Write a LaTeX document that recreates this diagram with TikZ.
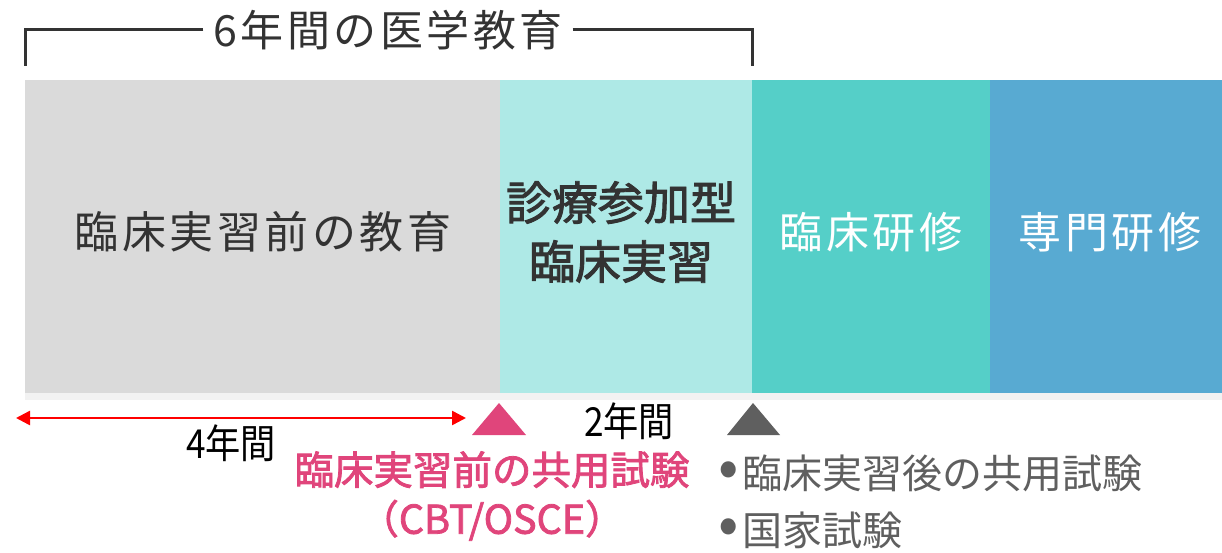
\documentclass[tikz,border=0pt]{standalone}
\usepackage{fontspec}
\setmainfont{Noto Sans CJK JP}
\newfontfamily\jpb{Noto Sans CJK JP}[FakeBold=2]
\newfontfamily\jpl{Noto Sans CJK JP}[LetterSpace=8]
\usetikzlibrary{arrows.meta}
\definecolor{cgray}{HTML}{DADADA}
\definecolor{clight}{HTML}{AEE9E6}
\definecolor{cteal}{HTML}{55CFC8}
\definecolor{cblue}{HTML}{58AAD2}
\definecolor{cpink}{HTML}{E0457B}
\definecolor{cdark}{HTML}{5F5F5F}
\definecolor{ctext}{HTML}{333333}
\definecolor{cred}{HTML}{FF0000}
\newcommand{\mybul}{\raisebox{1pt}{\scalebox{1.5}{•}}\hspace{4pt}}
\begin{document}
\begin{tikzpicture}[x=1pt,y=-1pt,
  lbl/.style={inner sep=0pt,align=center}]
\useasboundingbox (0,0) rectangle (1222,553);
% bars
\fill[black!5] (25,86) rectangle (1222,400);
\fill[cgray] (25,80) rectangle (500,393);
\fill[clight] (500,80) rectangle (752,393);
\fill[cteal] (752,80) rectangle (990,393);
\fill[cblue] (990,80) rectangle (1222,393);
\node[lbl,text=ctext,font=\jpl\fontsize{44}{50}\selectfont] (pre) at (263,232) {臨床実習前の教育};
\node[lbl,text=ctext,font=\jpb\fontsize{46}{59}\selectfont] (cc) at (621,232) {診療参加型\\臨床実習};
\node[lbl,text=white,font=\jpl\fontsize{43}{48}\selectfont] (kr) at (871,232) {臨床研修};
\node[lbl,text=white,font=\jpl\fontsize{43}{48}\selectfont] (sr) at (1110,232) {専門研修};
% bracket
\node[lbl,text=ctext,font=\jpl\fontsize{43}{48}\selectfont] (six) at (388,30) {6年間の医学教育};
\coordinate (bl) at (25,66);
\coordinate (br) at (752,66);
\draw[line width=3pt,color=ctext] (six.west) ++(-10,0) -| (bl);
\draw[line width=3pt,color=ctext] (six.east) ++(10,0) -| (br);
% arrow
\coordinate (a1) at (16,418);
\coordinate (a2) at (466,418);
\draw[cred,line width=2.5pt,{Triangle[length=14pt,width=14pt]}-{Triangle[length=14pt,width=14pt]}] (a1) -- (a2);
\node[lbl,font=\fontsize{40}{44}\selectfont] (four) at (231,443) {\scalebox{0.88}[1]{4年間}};
\node[lbl,font=\fontsize{40}{44}\selectfont] (two) at (629,421) {\scalebox{0.88}[1]{2年間}};
% triangles
\fill[cpink] (472,435) -- (499,403) -- (526,435) -- cycle;
\fill[cdark] (727,435) -- (753,403) -- (780,435) -- cycle;
% pink text
\node[lbl,text=cpink,font=\jpb\fontsize{39.5}{49}\selectfont] (pk) at (492,496) {臨床実習前の共用試験\\（CBT/OSCE）};
\node[lbl,anchor=west,text=cdark,font=\fontsize{40}{44}\selectfont] (g1) at (718,473) {\mybul 臨床実習後の共用試験};
\node[lbl,anchor=west,text=cdark,font=\fontsize{40}{44}\selectfont] (g2) at (718,530) {\mybul 国家試験};
\end{tikzpicture}
\end{document}
